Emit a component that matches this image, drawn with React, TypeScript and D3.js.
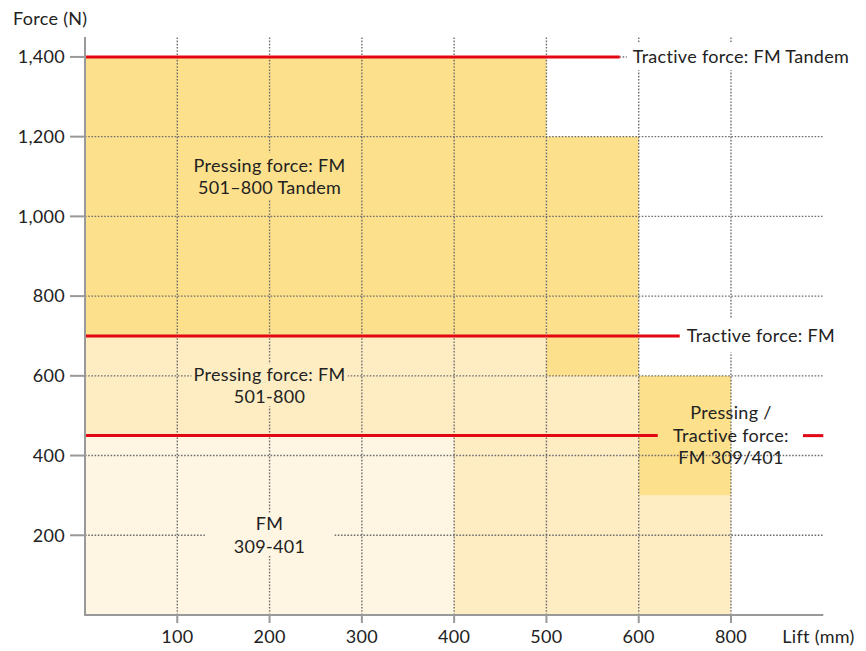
import React, { useEffect, useRef } from "react";
import * as d3 from "d3";

// ---- data ----
const liftCategories = ["0", "100", "200", "300", "400", "500", "600", "800"];
const liftTickLabels = ["100", "200", "300", "400", "500", "600", "800"];
const forceTicks = [200, 400, 600, 800, 1000, 1200, 1400];

// bands: [fromLift, toLift, lowForce, highForce]
const fm501Bands: [string, string, number, number][] = [
  ["0", "600", 0, 700],
  ["600", "800", 0, 300],
];
const tandemBands: [string, string, number, number][] = [
  ["0", "500", 700, 1400],
  ["500", "600", 600, 1200],
];
const fm309ComboBands: [string, string, number, number][] = [["600", "800", 300, 600]];
const fm309Bands: [string, string, number, number][] = [["0", "400", 0, 450]];

const tractiveNames = ["Tractive force: FM Tandem", "Tractive force: FM", "Pressing / Tractive force: FM 309/401"];
const tractiveValues = [1400, 700, 450];

const W = 866;
const H = 651;
const FONT = "Lato, 'Open Sans', sans-serif";
const FS = 18;
const LS = "0.3px";
const DARK = "#fde08b";
const MED = "#feedc3";
const LIGHT = "#fef6e3";
const RED = "#e30613";
const TEXT = "#222";

export default function App() {
  const ref = useRef<SVGSVGElement | null>(null);

  useEffect(() => {
    const svg = d3.select(ref.current);
    svg.selectAll("*").remove();

    const x0 = 85;
    const step = (731 - 85) / 7;
    const x = d3.scalePoint<string>().domain(liftCategories).range([x0, 731]);
    const xEnd = 731 + step;
    const y = d3.scaleLinear().domain([0, 1450]).range([615, 37]);

    const styleText = (t: any) =>
      t.attr("font-family", FONT).attr("font-size", FS).attr("letter-spacing", LS).attr("fill", TEXT);

    const drawBands = (bands: [string, string, number, number][], color: string) => {
      svg
        .append("g")
        .selectAll("rect")
        .data(bands)
        .join("rect")
        .attr("x", (d) => x(d[0])!)
        .attr("width", (d) => x(d[1])! - x(d[0])!)
        .attr("y", (d) => y(d[3]))
        .attr("height", (d) => y(d[2]) - y(d[3]))
        .attr("fill", color);
    };
    drawBands(fm501Bands, MED);
    drawBands(tandemBands, DARK);
    drawBands(fm309ComboBands, DARK);
    drawBands(fm309Bands, LIGHT);

    // grid
    const grid = svg.append("g").attr("stroke", "#6f6f6f").attr("stroke-width", 1.4).attr("stroke-dasharray", "1.6,1.6");
    grid
      .selectAll("line.h")
      .data(forceTicks)
      .join("line")
      .attr("x1", x0)
      .attr("x2", xEnd)
      .attr("y1", (d) => y(d))
      .attr("y2", (d) => y(d));
    grid
      .selectAll("line.v")
      .data(liftTickLabels)
      .join("line")
      .attr("x1", (d) => x(d)!)
      .attr("x2", (d) => x(d)!)
      .attr("y1", y(0))
      .attr("y2", y(1450));

    // red tractive lines
    const red = svg.append("g").attr("stroke", RED).attr("stroke-width", 3);
    const lineEnds = [x("600")! - 19, x("600")! + 41, x("600")! + 19];
    tractiveValues.forEach((v, i) => {
      red.append("line").attr("x1", x0).attr("x2", lineEnds[i]).attr("y1", y(v)).attr("y2", y(v));
    });
    red
      .append("line")
      .attr("x1", x("800")! + 72)
      .attr("x2", xEnd)
      .attr("y1", y(tractiveValues[2]))
      .attr("y2", y(tractiveValues[2]));

    // labels
    const labelLayer = svg.append("g");
    const addLabel = (
      lines: string[],
      cx: number,
      cy: number,
      anchor: string,
      bg: string | null,
      padX: number,
      padY: number
    ) => {
      const g = labelLayer.append("g");
      const lh = 22.5;
      const t = styleText(g.append("text")).attr("text-anchor", anchor);
      lines.forEach((l, i) => {
        t.append("tspan")
          .attr("x", cx)
          .attr("y", cy + (i - (lines.length - 1) / 2) * lh)
          .attr("dy", "0.35em")
          .text(l);
      });
      if (bg) {
        const bb = (t.node() as SVGTextElement).getBBox();
        g.insert("rect", "text")
          .attr("x", bb.x - padX)
          .attr("y", bb.y - padY)
          .attr("width", bb.width + 2 * padX)
          .attr("height", bb.height + 2 * padY)
          .attr("fill", bg);
      }
    };

    addLabel(["Pressing force: FM", "501–800 Tandem"], x("200")!, y(1100), "middle", DARK, 2, 1);
    addLabel(["Pressing force: FM", "501-800"], x("200")!, y(575), "middle", MED, 2, -1);
    addLabel(["FM", "309-401"], x("200")!, y(200), "middle", LIGHT, 29, -1);
    addLabel([tractiveNames[0]], lineEnds[0] + 13, y(tractiveValues[0]), "start", "#fff", 6, 3);
    addLabel([tractiveNames[1]], lineEnds[1] + 7, y(tractiveValues[1]), "start", "#fff", 6, 6);
    addLabel(["Pressing /", "Tractive force:", "FM 309/401"], x("800")!, y(tractiveValues[2]), "middle", null, 0, 0);

    // axes
    const axisColor = "#999";
    const yAxis = svg.append("g");
    yAxis
      .append("line")
      .attr("x1", x0)
      .attr("x2", x0)
      .attr("y1", y(0))
      .attr("y2", y(1450))
      .attr("stroke", axisColor)
      .attr("stroke-width", 2);
    const yt = yAxis.selectAll("g.t").data(forceTicks).join("g");
    yt.append("line")
      .attr("x1", x0 - 15)
      .attr("x2", x0)
      .attr("y1", (d) => y(d))
      .attr("y2", (d) => y(d))
      .attr("stroke", axisColor)
      .attr("stroke-width", 2);
    styleText(yt.append("text"))
      .attr("x", x0 - 20)
      .attr("y", (d: number) => y(d))
      .attr("dy", "0.35em")
      .attr("text-anchor", "end")
      .text((d: number) => d3.format(",")(d));

    const xAxis = svg.append("g");
    xAxis
      .append("line")
      .attr("x1", x0 - 1)
      .attr("x2", xEnd)
      .attr("y1", y(0))
      .attr("y2", y(0))
      .attr("stroke", axisColor)
      .attr("stroke-width", 2);
    const xt = xAxis.selectAll("g.t").data(liftTickLabels).join("g");
    xt.append("line")
      .attr("x1", (d) => x(d)!)
      .attr("x2", (d) => x(d)!)
      .attr("y1", y(0))
      .attr("y2", y(0) + 8)
      .attr("stroke", axisColor)
      .attr("stroke-width", 2);
    styleText(xt.append("text"))
      .attr("x", (d: string) => x(d)!)
      .attr("y", y(0) + 22)
      .attr("dy", "0.35em")
      .attr("text-anchor", "middle")
      .text((d: string) => d);

    styleText(svg.append("text")).attr("x", 13).attr("y", 19).attr("dy", "0.35em").text("Force (N)");
    styleText(svg.append("text"))
      .attr("x", xEnd - 41)
      .attr("y", y(0) + 22)
      .attr("dy", "0.35em")
      .text("Lift (mm)");
  }, []);

  return (
    <svg
      ref={ref}
      width={W}
      height={H}
      style={{ position: "absolute", left: 0, top: 0, background: "#fff" }}
    />
  );
}
